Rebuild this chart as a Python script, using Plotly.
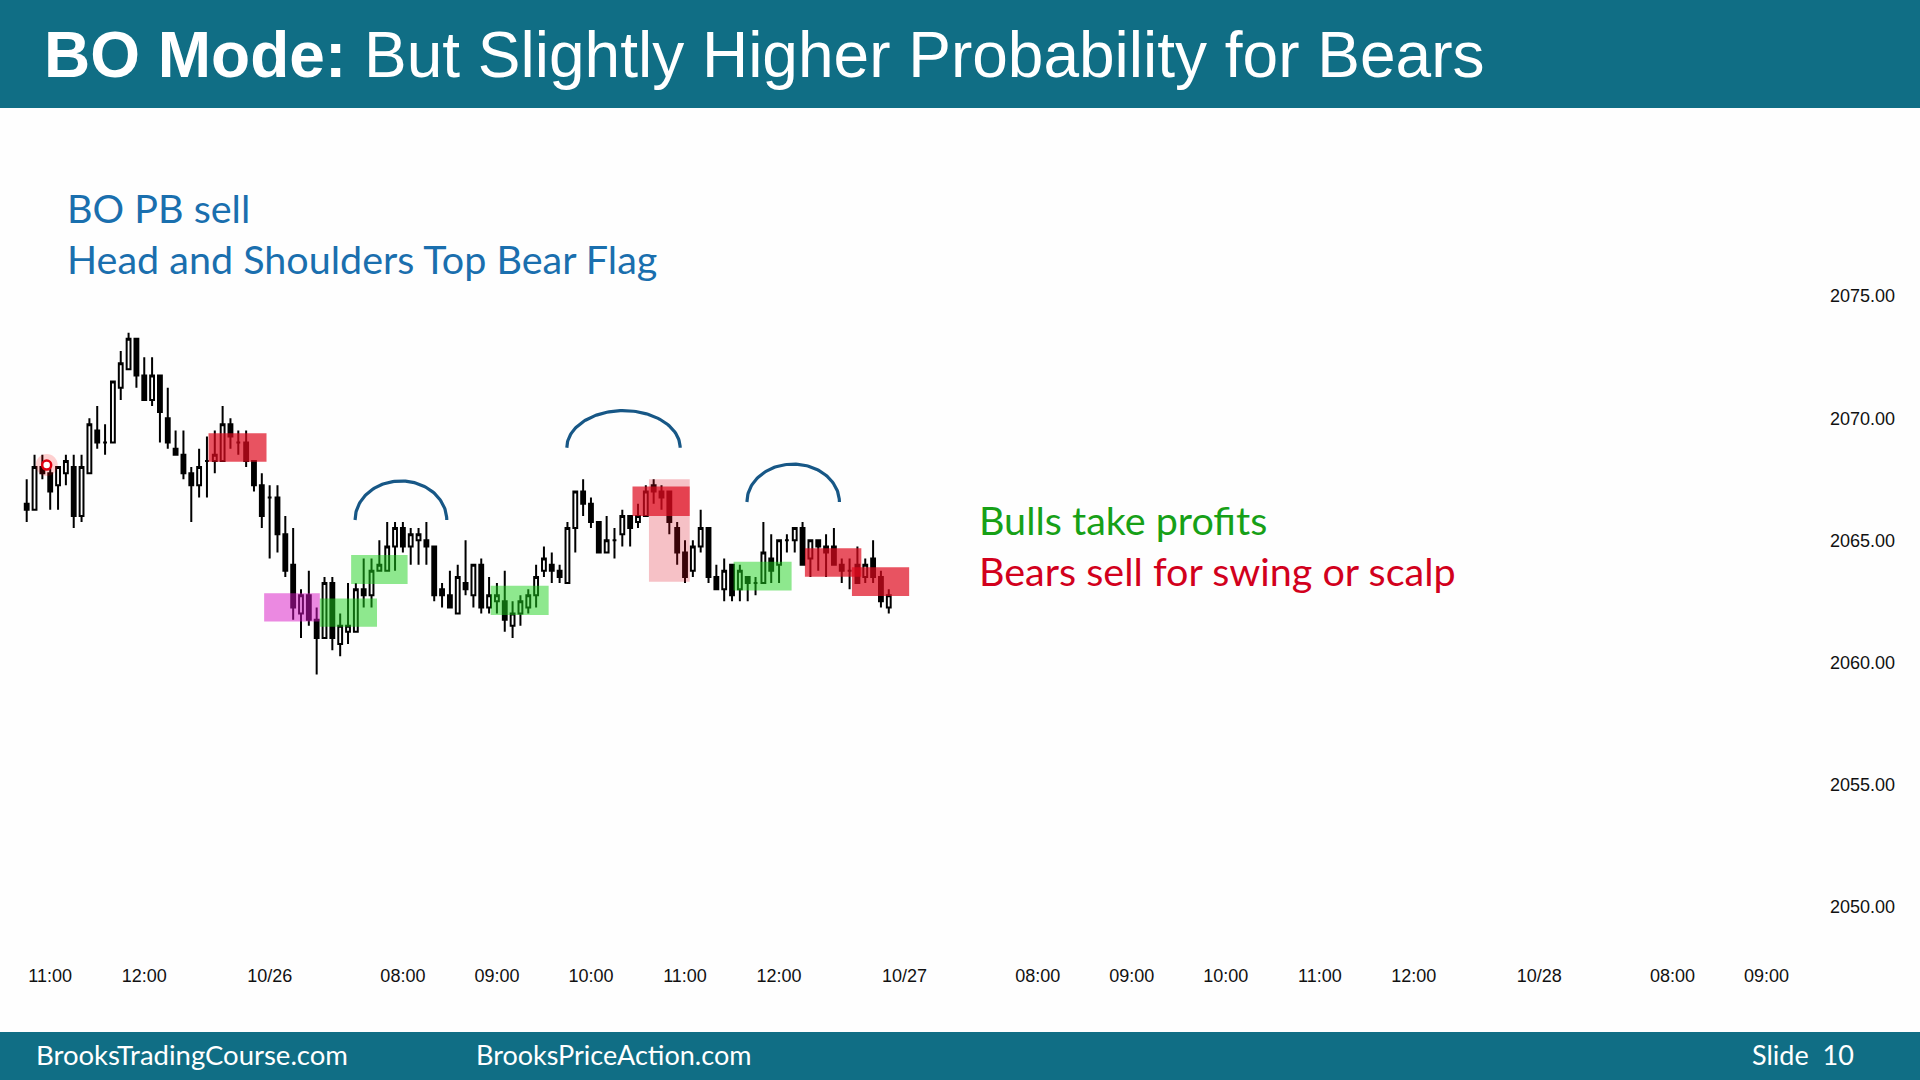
import numpy as np
import plotly.graph_objects as go

# ---------------- data (5-minute bars, index = bar slot) ----------------
opens = [2066.5, 2066.25, 2068.0, 2067.75, 2067.25, 2067.75, 2068.0, 2066.0, 2067.75, 2069.5,
         2069.0, 2069.0, 2071.25, 2072.0, 2073.25, 2071.75, 2070.75, 2071.75, 2070.0, 2068.75,
         2068.5, 2067.75, 2067.25, 2068.25, 2068.25, 2068.25, 2069.75, 2069.0, 2069.0, 2068.25,
         2067.25, 2066.75, 2066.75, 2065.25, 2064.0, 2062.0, 2062.75, 2061.75, 2061.0, 2063.25,
         2060.75, 2061.25, 2061.25, 2063.0, 2062.75, 2063.75, 2063.75, 2064.75, 2065.5, 2064.75,
         2065.0, 2065.0, 2064.75, 2063.0, 2062.75, 2062.0, 2063.25, 2062.75, 2064.0, 2062.25,
         2062.5, 2062.5, 2061.5, 2062.0, 2062.25, 2062.75, 2063.75, 2064.0, 2063.75, 2063.25,
         2065.5, 2067.0, 2066.5, 2065.75, 2064.5, 2065.0, 2065.25, 2066.0, 2065.75, 2066.0,
         2067.25, 2067.0, 2067.0, 2065.5, 2064.5, 2063.75, 2064.75, 2065.5, 2063.5, 2063.0,
         2064.0, 2063.0, 2063.5, 2063.25, 2063.25, 2064.25, 2064.0, 2065.0, 2065.0, 2065.5,
         2064.25, 2065.0, 2064.75, 2064.75, 2064.0, 2063.75, 2064.0, 2063.5, 2064.25, 2063.5,
         2062.25]
highs = [2067.5, 2068.5, 2068.5, 2068.0, 2068.0, 2068.5, 2068.5, 2068.5, 2070.0, 2070.5,
         2069.75, 2071.5, 2072.75, 2073.5, 2073.25, 2072.5, 2072.5, 2071.75, 2071.25, 2069.5,
         2069.5, 2068.0, 2068.75, 2069.25, 2069.5, 2070.5, 2070.0, 2069.5, 2069.5, 2068.25,
         2067.75, 2067.25, 2067.25, 2066.0, 2065.5, 2063.0, 2063.75, 2062.25, 2063.5, 2063.5,
         2062.0, 2063.25, 2063.25, 2064.25, 2064.25, 2065.0, 2065.75, 2065.75, 2065.75, 2065.5,
         2065.5, 2065.75, 2064.75, 2063.25, 2063.75, 2064.0, 2065.0, 2064.0, 2064.25, 2063.5,
         2063.25, 2063.75, 2062.5, 2062.75, 2063.0, 2064.0, 2064.75, 2064.5, 2064.0, 2065.75,
         2067.0, 2067.5, 2066.75, 2065.75, 2066.0, 2065.5, 2066.25, 2066.0, 2066.5, 2067.25,
         2067.5, 2067.25, 2067.0, 2065.75, 2065.0, 2065.0, 2066.25, 2065.5, 2064.0, 2064.25,
         2064.0, 2064.0, 2063.5, 2063.5, 2065.75, 2065.25, 2065.0, 2065.25, 2065.5, 2065.75,
         2065.0, 2065.0, 2065.25, 2065.5, 2064.25, 2064.25, 2064.75, 2064.25, 2065.0, 2063.75,
         2063.0]
lows = [2065.75, 2066.25, 2067.5, 2066.25, 2066.25, 2067.25, 2065.5, 2065.75, 2067.75, 2068.75,
        2068.5, 2069.0, 2070.75, 2072.0, 2071.25, 2070.75, 2070.5, 2069.0, 2068.75, 2068.5,
        2067.5, 2065.75, 2066.75, 2066.75, 2067.75, 2068.25, 2068.75, 2068.5, 2068.0, 2067.0,
        2065.5, 2064.25, 2064.5, 2063.5, 2061.75, 2061.0, 2061.5, 2059.5, 2061.0, 2060.5,
        2060.25, 2060.75, 2061.25, 2062.25, 2062.25, 2063.75, 2063.75, 2063.75, 2064.5, 2064.0,
        2064.0, 2064.0, 2062.5, 2062.25, 2062.25, 2062.0, 2062.75, 2062.25, 2062.0, 2062.0,
        2062.0, 2061.25, 2061.0, 2061.5, 2062.0, 2062.25, 2063.5, 2063.25, 2063.25, 2063.25,
        2064.5, 2066.0, 2065.5, 2064.5, 2064.5, 2064.25, 2064.75, 2064.75, 2065.5, 2066.0,
        2066.5, 2066.25, 2065.25, 2064.0, 2063.25, 2063.5, 2064.5, 2063.25, 2063.0, 2062.5,
        2062.5, 2062.5, 2062.5, 2062.75, 2063.25, 2063.25, 2063.25, 2064.5, 2064.5, 2064.0,
        2063.5, 2063.75, 2063.5, 2064.0, 2063.25, 2063.0, 2063.25, 2063.25, 2063.25, 2062.25,
        2062.0]
closes = [2066.25, 2068.0, 2067.75, 2067.0, 2068.0, 2068.25, 2066.0, 2068.0, 2069.75, 2069.0,
          2069.0, 2071.5, 2072.25, 2073.25, 2071.75, 2070.75, 2071.75, 2070.25, 2069.0, 2068.5,
          2067.75, 2067.25, 2068.0, 2068.25, 2068.5, 2069.75, 2069.25, 2069.0, 2068.25, 2067.25,
          2066.0, 2066.75, 2065.25, 2063.75, 2062.25, 2062.75, 2061.75, 2061.0, 2063.25, 2061.0,
          2061.5, 2061.5, 2063.0, 2062.75, 2063.75, 2064.0, 2064.75, 2065.5, 2064.75, 2065.25,
          2065.25, 2064.75, 2062.75, 2062.75, 2062.25, 2063.5, 2063.0, 2064.0, 2062.25, 2062.75,
          2062.75, 2061.75, 2062.0, 2062.5, 2062.75, 2063.5, 2064.25, 2063.75, 2063.5, 2065.5,
          2067.0, 2066.5, 2065.75, 2064.5, 2065.0, 2065.0, 2066.0, 2065.5, 2066.0, 2067.0,
          2067.0, 2066.75, 2065.75, 2064.5, 2063.5, 2064.75, 2065.5, 2063.5, 2063.0, 2063.75,
          2062.75, 2063.75, 2063.25, 2063.25, 2064.5, 2063.75, 2065.0, 2065.0, 2065.5, 2064.0,
          2065.0, 2064.75, 2064.5, 2064.0, 2063.75, 2063.75, 2063.25, 2064.0, 2063.5, 2062.5,
          2062.75]
bar_index = list(range(len(opens)))

x_tick_index = [3, 15, 31, 48, 60, 72, 84, 96, 112, 129, 141, 153, 165, 177, 193, 210, 222]
x_tick_labels = ["11:00", "12:00", "10/26", "08:00", "09:00", "10:00", "11:00", "12:00", "10/27",
                 "08:00", "09:00", "10:00", "11:00", "12:00", "10/28", "08:00", "09:00"]
y_tick_values = [2050, 2055, 2060, 2065, 2070, 2075]
y_tick_labels = ["2050.00", "2055.00", "2060.00", "2065.00", "2070.00", "2075.00"]

# highlight boxes: (x0, x1, y0, y1, kind)
boxes = [
    (23.2, 30.6, 2068.22, 2069.38, "red"),
    (30.3, 37.4, 2061.67, 2062.83, "magenta"),
    (37.4, 44.7, 2061.46, 2062.62, "green"),
    (41.4, 48.6, 2063.21, 2064.40, "green"),
    (59.2, 66.6, 2061.94, 2063.14, "green"),
    (79.4, 84.6, 2063.30, 2067.50, "pink"),
    (77.3, 84.6, 2066.00, 2067.20, "red"),
    (90.2, 97.6, 2062.94, 2064.12, "green"),
    (99.3, 106.5, 2063.51, 2064.67, "red"),
    (105.3, 112.6, 2062.72, 2063.90, "red"),
]
box_colors = {
    "red": "rgba(222,10,30,0.7)",
    "pink": "rgba(222,10,30,0.25)",
    "green": "rgba(30,210,30,0.5)",
    "magenta": "rgba(215,20,195,0.5)",
}
# head & shoulders arcs: (centre index, half-width in bars, base price, height in points)
arcs = [(47.75, 5.85, 2065.83, 1.60), (76.15, 7.23, 2068.79, 1.52), (97.8, 5.9, 2066.57, 1.55)]

# ---------------- geometry of the page ----------------
W, H = 1920, 1080
PL, PR, PT, PB = 0, 1825, 120, 958       # plot area in pixels
BAR_PX = 7.837
X0 = -26.7 / BAR_PX
X1 = X0 + (PR - PL) / BAR_PX
PX_PER_PT = 24.42
Y_TOP = 2075 + (296.1 - PT) / PX_PER_PT
Y_BOT = 2075 - (PB - 296.1) / PX_PER_PT


def px(x):
    return (x - PL) / (PR - PL)


def py(y):
    return (PB - y) / (PB - PT)


fig = go.Figure()
fig.add_trace(go.Candlestick(
    x=bar_index, open=opens, high=highs, low=lows, close=closes,
    increasing=dict(line=dict(color="black", width=2), fillcolor="white"),
    decreasing=dict(line=dict(color="black", width=2), fillcolor="black"),
    whiskerwidth=0, hoverinfo="skip", showlegend=False,
))

# red marker near the start
fig.add_trace(go.Scatter(x=[2.55], y=[2068.08], mode="markers",
                         marker=dict(size=22, color="rgba(255,0,0,0.18)"),
                         hoverinfo="skip", showlegend=False))
fig.add_trace(go.Scatter(x=[2.55], y=[2068.08], mode="markers",
                         marker=dict(size=9, color="white", line=dict(color="#e00010", width=2.5)),
                         hoverinfo="skip", showlegend=False))

# arcs
t = np.linspace(0, np.pi, 80)
for cx, rx, by, ry in arcs:
    fig.add_trace(go.Scatter(x=cx - rx * np.cos(t), y=by + ry * np.sin(t), mode="lines",
                             line=dict(color="#175786", width=3.2),
                             hoverinfo="skip", showlegend=False))

shapes = []
for x0, x1, y0, y1, kind in boxes:
    shapes.append(dict(type="rect", xref="x", yref="y", x0=x0, x1=x1, y0=y0, y1=y1,
                       fillcolor=box_colors[kind], line=dict(width=0), layer="above"))
# header and footer bars
shapes.append(dict(type="rect", xref="paper", yref="paper", x0=px(0), x1=px(W), y0=py(108), y1=py(0),
                   fillcolor="#106e85", line=dict(width=0), layer="above"))
shapes.append(dict(type="rect", xref="paper", yref="paper", x0=px(0), x1=px(W), y0=py(H), y1=py(1032),
                   fillcolor="#106e85", line=dict(width=0), layer="above"))

annotations = []


def note(text, x, y, size, color, family, xanchor="left"):
    annotations.append(dict(text=text, xref="paper", yref="paper", x=px(x), y=py(y),
                            xanchor=xanchor, yanchor="middle", showarrow=False,
                            font=dict(size=size, color=color, family=family)))


note("<b>BO Mode:</b> But Slightly Higher Probability for Bears", 42, 55, 64, "white",
     "Liberation Sans, Arial, sans-serif")
note("BO PB sell", 65, 208, 39.5, "#1a6fae", "Lato, Open Sans, sans-serif")
note("Head and Shoulders Top Bear Flag", 65, 259, 39.5, "#1a6fae", "Lato, Open Sans, sans-serif")
note("Bulls take profits", 977, 519, 39.5, "#17a017", "Lato, Open Sans, sans-serif")
note("Bears sell for swing or scalp", 977, 570, 39.5, "#d2001c", "Lato, Open Sans, sans-serif")
note("BrooksTradingCourse.com", 34, 1054, 27.5, "white", "Lato, Noto Sans, sans-serif")
note("BrooksPriceAction.com", 474, 1054, 27, "white", "Lato, Noto Sans, sans-serif")
note("Slide  10", 1750, 1054, 27, "white", "Lato, Noto Sans, sans-serif")

fig.update_layout(
    width=W, height=H,
    margin=dict(l=PL, r=W - PR, t=PT, b=H - PB, pad=0, autoexpand=False),
    paper_bgcolor="#fefefe", plot_bgcolor="#fefefe",
    shapes=shapes, annotations=annotations,
    xaxis=dict(range=[X0, X1], tickmode="array", tickvals=x_tick_index, ticktext=x_tick_labels,
               showgrid=False, zeroline=False, showline=False, ticks="", ticklabelstandoff=5,
               tickfont=dict(size=18, color="#111", family="Liberation Sans, Arial, sans-serif"),
               rangeslider=dict(visible=False), fixedrange=True),
    yaxis=dict(range=[Y_BOT, Y_TOP], side="right", tickmode="array", tickvals=y_tick_values,
               ticktext=y_tick_labels, showgrid=False, zeroline=False, showline=False, ticks="",
               ticklabelstandoff=4,
               tickfont=dict(size=18, color="#111", family="Liberation Sans, Arial, sans-serif"),
               fixedrange=True),
    showlegend=False,
)

fig.write_html("out.html")
